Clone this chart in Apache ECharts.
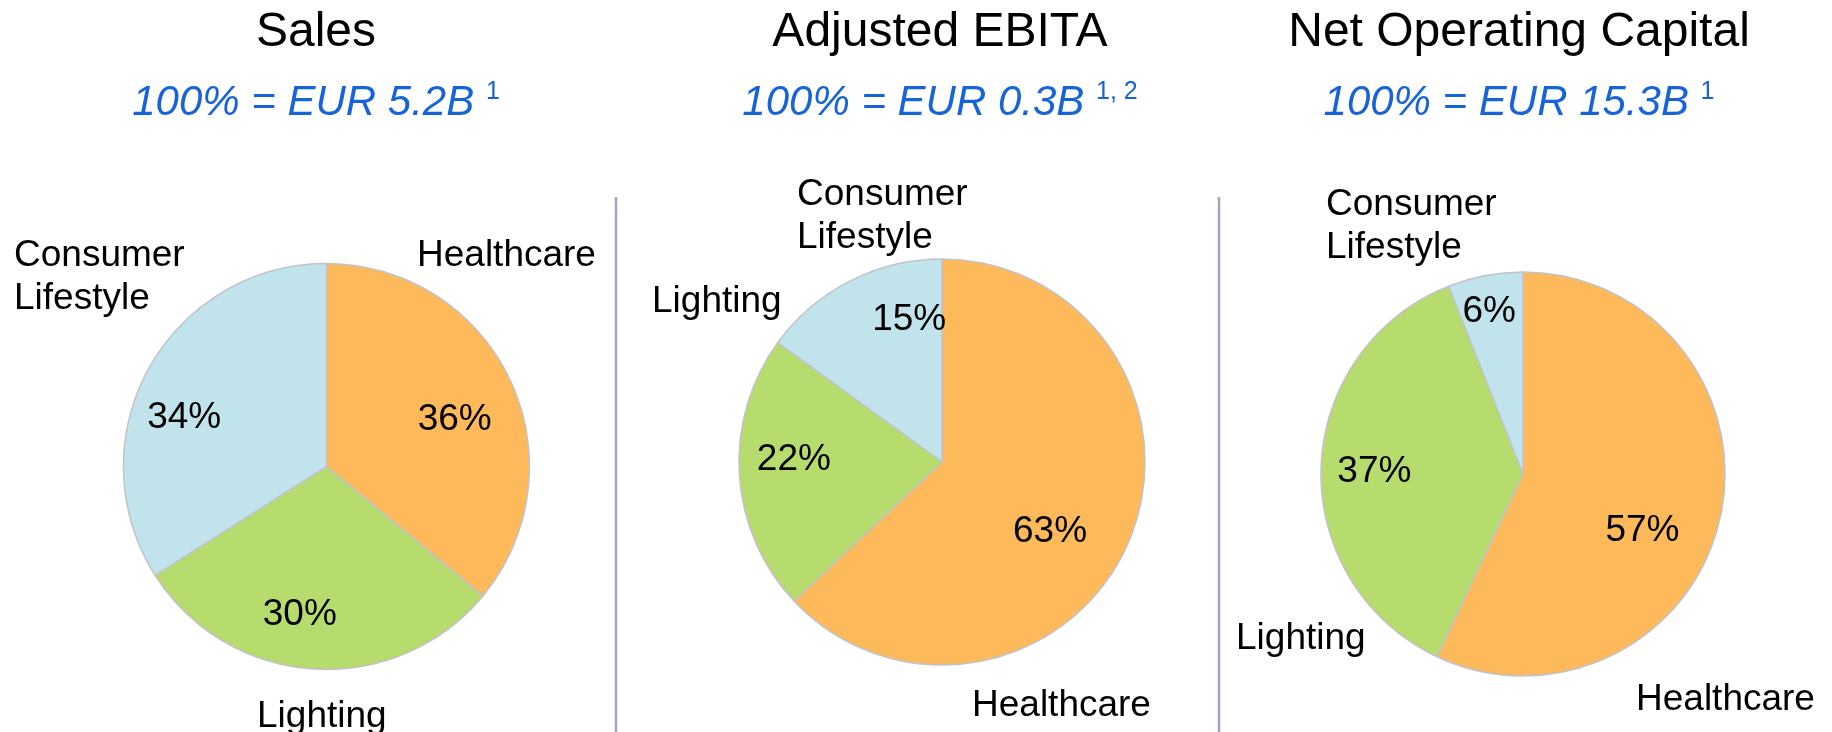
<!DOCTYPE html>
<html><head><meta charset="utf-8">
<script src="https://cdn.jsdelivr.net/npm/echarts@6/dist/echarts.min.js"></script>
<style>html,body{margin:0;padding:0;background:#fff}#c{width:1832px;height:732px}</style>
</head><body><div id="c"></div>
<script>
// ---- data ----
const categories = ['Healthcare', 'Lighting', 'Consumer Lifestyle'];
const chartTitles = ['Sales', 'Adjusted EBITA', 'Net Operating Capital'];
const totals = ['100% = EUR 5.2B', '100% = EUR 0.3B', '100% = EUR 15.3B'];
const footnotes = ['1', '1, 2', '1'];
const salesShares = [36, 30, 34];
const ebitaShares = [63, 22, 15];
const nocShares = [57, 37, 6];

// ---- styles / layout ----
const F = '"Liberation Sans", Arial, sans-serif';
const colors = ['#FDB95A', '#B6DC6E', '#C1E3EB'];
const BLUE = '#1763D9';
const panels = [
  { cx: 326.5, cy: 466.5, r: 203, tx: 316,
    cat: [[417, 256], [257, 717], [14, 277]],
    pct: [[3, 12], [-18, 10], [-21, 18]] },
  { cx: 942, cy: 462, r: 203, tx: 940,
    cat: [[972, 706], [652, 302], [797, 216]],
    pct: [[-19, 15], [-10, -11], [30, -19]] },
  { cx: 1523, cy: 474, r: 202, tx: 1519,
    cat: [[1636, 700], [1236, 639], [1326, 226]],
    pct: [[-15, 27], [-11, 2], [-8, -27]] }
];
const shares = [salesShares, ebitaShares, nocShares];

const series = [];
shares.forEach((vals, i) => {
  const p = panels[i];
  const data = categories.map((c, k) => ({ name: c, value: vals[k], itemStyle: { color: colors[k] } }));
  const tdata = categories.map((c, k) => ({ name: c, value: vals[k] }));
  series.push({
    type: 'pie', center: [p.cx, p.cy], radius: p.r, startAngle: 90, clockwise: true,
    silent: true, animation: false, avoidLabelOverlap: false,
    itemStyle: { borderColor: '#C2C2C8', borderWidth: 1.5 },
    label: { show: false }, labelLine: { show: false }, emphasis: { disabled: true },
    data: data
  });
  series.push({
    type: 'pie', center: [p.cx, p.cy], radius: [p.r * 0.334, p.r], startAngle: 90, clockwise: true,
    silent: true, animation: false, avoidLabelOverlap: false,
    itemStyle: { color: 'rgba(0,0,0,0)', borderWidth: 0 },
    label: { show: true, position: 'inside', formatter: '{c}%', fontSize: 37, fontFamily: F, color: '#000' },
    labelLine: { show: false }, emphasis: { disabled: true },
    labelLayout: (prm) => ({ dx: p.pct[prm.dataIndex][0], dy: p.pct[prm.dataIndex][1] }),
    data: tdata
  });
  series.push({
    type: 'pie', center: [p.cx, p.cy], radius: p.r, startAngle: 90, clockwise: true,
    silent: true, animation: false, avoidLabelOverlap: false,
    itemStyle: { color: 'rgba(0,0,0,0)', borderWidth: 0 },
    label: { show: true, position: 'outside', formatter: (prm) => prm.name.replace(' ', '\n'),
      fontSize: 37, lineHeight: 43, fontFamily: F, color: '#000', align: 'left' },
    labelLine: { show: false }, emphasis: { disabled: true },
    labelLayout: (prm) => ({ x: p.cat[prm.dataIndex][0], y: p.cat[prm.dataIndex][1], align: 'left', verticalAlign: 'middle' }),
    data: tdata
  });
});

const graphic = [];
panels.forEach((p, i) => {
  graphic.push({ type: 'text', x: p.tx, y: 33, silent: true,
    style: { text: chartTitles[i], font: '48px ' + F, fill: '#000', align: 'center', verticalAlign: 'middle' } });
  graphic.push({ type: 'text', x: p.tx, y: 103, silent: true,
    style: { text: '{m|' + totals[i] + ' }{s|' + footnotes[i] + '}', align: 'center', verticalAlign: 'middle',
      rich: {
        m: { fontSize: 42, fontStyle: 'italic', fontFamily: F, fill: BLUE, lineHeight: 46 },
        s: { fontSize: 25, fontFamily: F, fill: BLUE, verticalAlign: 'top' }
      } } });
});
[616, 1219].forEach(x => graphic.push({ type: 'line', silent: true,
  shape: { x1: x, y1: 197, x2: x, y2: 732 }, style: { stroke: '#A3A7BC', lineWidth: 2.5 } }));

const chart = echarts.init(document.getElementById('c'), null, { renderer: 'canvas' });
chart.setOption({ backgroundColor: '#fff', animation: false, series: series, graphic: graphic });
</script></body></html>
